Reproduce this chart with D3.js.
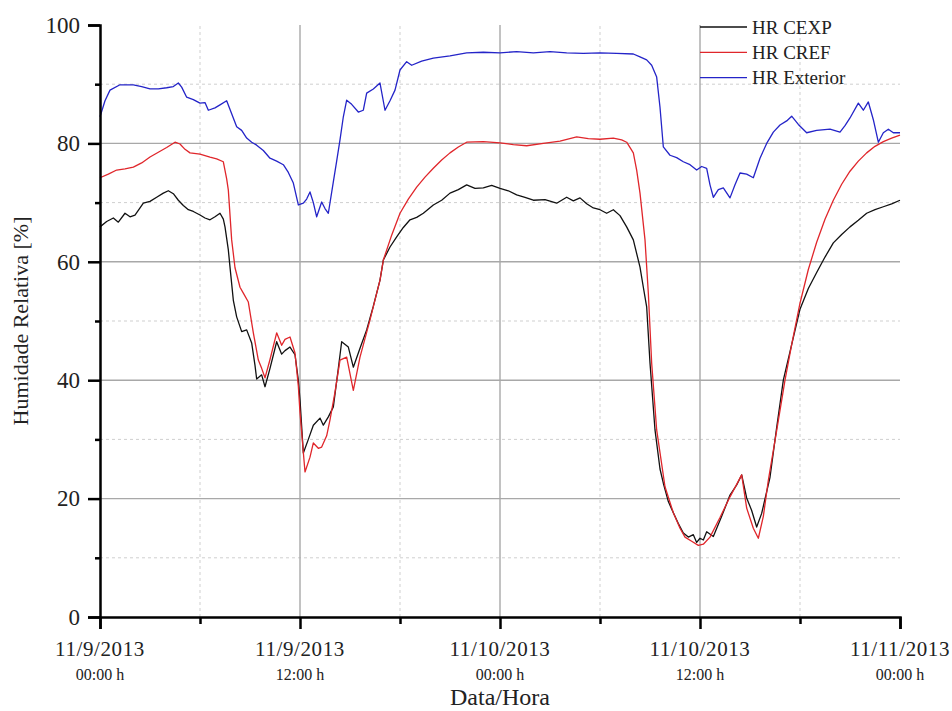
<!DOCTYPE html>
<html>
<head>
<meta charset="utf-8">
<script src="https://cdn.jsdelivr.net/npm/d3@7"></script>
<style>
  body { margin: 0; background: #fff; }
  text { font-family: "Liberation Serif", "DejaVu Serif", serif; fill: #222; }
</style>
</head>
<body>
<div id="chart"></div>
<script>
var width = 952;
var height = 711;
var margin = {top: 25, right: 52, bottom: 94, left: 100};

// hours since 11/9/2013 00:00
var xTicks = [0, 12, 24, 36, 48];
var xMinor = [6, 18, 30, 42];
var dateLabels = ["11/9/2013", "11/9/2013", "11/10/2013", "11/10/2013", "11/11/2013"];
var timeLabels = ["00:00 h", "12:00 h", "00:00 h", "12:00 h", "00:00 h"];
var yTicks = [0, 20, 40, 60, 80, 100];
var yMinor = [10, 30, 50, 70, 90];

var seriesNames = ["HR CEXP", "HR CREF", "HR Exterior"];
var seriesColors = ["#111111", "#e0262b", "#2424c8"];

// [hour, %]
var cexp = [[0,65.9],[0.4,66.8],[0.8,67.4],[1.1,66.7],[1.5,68.2],[1.8,67.6],[2.1,67.9],[2.6,69.9],[3,70.2],[3.4,70.9],[3.8,71.6],[4.1,72],[4.4,71.5],[4.7,70.4],[5,69.5],[5.3,68.8],[5.6,68.5],[6,67.9],[6.3,67.4],[6.6,67.1],[6.9,67.6],[7.2,68.2],[7.4,67.2],[7.5,65.9],[7.7,62],[7.8,59.1],[8,53.5],[8.2,50.7],[8.5,48.2],[8.8,48.5],[9.1,46.3],[9.3,42.5],[9.4,40.2],[9.7,40.9],[9.9,38.9],[10.2,42],[10.6,46.5],[10.9,44.4],[11.1,45],[11.4,45.6],[11.7,44.3],[11.9,40],[12,36.7],[12.2,27.7],[12.5,30],[12.8,32.4],[13.2,33.6],[13.4,32.4],[13.7,33.8],[14,35.5],[14.3,42],[14.5,46.5],[14.9,45.6],[15.2,42.2],[15.6,45.4],[16,48.5],[16.4,52.5],[16.8,56.9],[17,60.3],[17.4,62.5],[17.8,64.2],[18.2,65.8],[18.6,67.1],[19,67.5],[19.4,68.2],[20,69.6],[20.5,70.4],[21,71.6],[21.5,72.2],[22,73],[22.5,72.4],[23,72.5],[23.5,72.9],[24,72.4],[24.5,72],[25,71.3],[25.5,70.9],[26,70.4],[26.7,70.5],[27.4,69.9],[28,70.9],[28.4,70.3],[28.8,70.8],[29.2,69.8],[29.6,69.1],[30,68.8],[30.4,68.2],[30.8,68.8],[31.2,67.8],[31.6,65.9],[32,63.7],[32.4,59.1],[32.6,55.7],[32.8,52.4],[33,42.9],[33.3,31.6],[33.6,25],[33.8,22.6],[34.1,19.5],[34.4,17.6],[34.7,15.8],[35,14.2],[35.3,13.5],[35.6,13.9],[35.8,12.6],[36,13.3],[36.2,13],[36.4,14.4],[36.8,13.6],[37.3,17],[37.8,20.6],[38.2,22.3],[38.5,24],[38.8,20.1],[39.1,18],[39.4,15.2],[39.7,17.5],[40.2,23.6],[40.6,32],[41,40],[41.5,46],[42,52],[42.5,55.5],[43,58.2],[43.5,60.8],[44,63.2],[44.5,64.6],[45,65.9],[45.5,67],[46,68.2],[46.5,68.8],[47,69.3],[47.5,69.8],[48,70.4]];

var cref = [[0,74.2],[0.5,74.8],[1,75.5],[1.5,75.7],[2,76],[2.5,76.7],[3,77.7],[3.5,78.5],[4,79.3],[4.5,80.2],[4.8,79.9],[5.1,79],[5.4,78.4],[6,78.2],[6.6,77.7],[7,77.4],[7.4,76.9],[7.6,74],[7.7,72.1],[7.9,63.7],[8.1,59],[8.4,55.7],[8.6,54.7],[8.9,53.2],[9.2,48],[9.5,43.4],[9.7,42],[9.9,40.4],[10.2,43.5],[10.6,48],[10.9,45.9],[11.1,46.9],[11.4,47.3],[11.7,44.6],[11.9,39],[12,34.5],[12.3,24.5],[12.6,27],[12.8,29.4],[13.1,28.5],[13.3,28.7],[13.6,30.6],[13.8,33.3],[14.1,38],[14.4,43.4],[14.8,43.9],[15.2,38.3],[15.6,43.9],[16.2,50.2],[16.8,56.9],[17,60.3],[17.5,64.5],[18,68.2],[18.5,70.6],[19,72.6],[19.5,74.3],[20,75.8],[20.5,77.2],[21,78.4],[21.5,79.4],[22,80.2],[23,80.3],[24,80.1],[24.8,79.8],[25.6,79.6],[26.6,80],[27.6,80.4],[28.6,81.1],[29.3,80.8],[30,80.7],[30.8,80.9],[31.3,80.6],[31.6,80.2],[32,78.4],[32.2,75.5],[32.4,71.6],[32.7,63.7],[32.9,54.7],[33.1,42.9],[33.4,31.6],[33.9,22],[34.4,17.6],[34.8,15],[35.1,13.5],[35.5,12.8],[35.9,12.1],[36.2,12.3],[36.6,13.5],[37.2,16.8],[37.8,20.3],[38.2,22.4],[38.5,24],[38.8,18.4],[39.2,15],[39.5,13.3],[39.8,17],[40.1,23.1],[40.6,31.5],[41.1,40],[41.5,46],[42,53],[42.5,58.7],[43,63.3],[43.5,67.2],[44,70.4],[44.5,73.1],[45,75.3],[45.5,77],[46,78.4],[46.5,79.5],[47,80.3],[47.5,80.9],[48,81.4]];

var ext = [[0,84.5],[0.3,87.2],[0.6,89],[1.2,89.9],[2,89.9],[2.5,89.6],[3,89.2],[3.5,89.2],[4,89.4],[4.4,89.6],[4.7,90.2],[4.9,89.5],[5.2,87.8],[5.6,87.4],[6,86.8],[6.3,86.9],[6.5,85.6],[6.9,86],[7.2,86.5],[7.6,87.2],[7.9,85],[8.2,82.8],[8.5,82.2],[8.8,80.9],[9.1,80.2],[9.4,79.7],[9.8,78.8],[10.2,77.5],[10.6,77],[11,76.4],[11.3,75.1],[11.6,73.3],[11.9,69.6],[12.2,69.9],[12.4,70.6],[12.6,71.8],[12.8,70],[13,67.6],[13.3,70.1],[13.5,69],[13.7,68.2],[14,73.5],[14.2,77],[14.4,80.6],[14.6,84.5],[14.8,87.3],[15.1,86.6],[15.5,85.3],[15.8,85.6],[16,88.5],[16.4,89.2],[16.8,90.2],[17.1,85.6],[17.4,87.2],[17.7,89],[18,92.4],[18.4,93.8],[18.7,93.2],[19.3,93.9],[20,94.4],[21,94.8],[22,95.3],[23,95.4],[24,95.3],[25,95.5],[26,95.3],[27,95.5],[28,95.3],[29,95.2],[30,95.3],[31,95.2],[32,95.1],[32.4,94.6],[32.8,94.1],[33.1,93.2],[33.4,91.2],[33.6,86.1],[33.8,79.4],[34.2,78],[34.6,77.6],[35,76.9],[35.4,76.4],[35.8,75.5],[36.1,76.1],[36.4,75.8],[36.6,73],[36.8,70.9],[37.1,72.2],[37.4,72.5],[37.8,70.8],[38.1,73],[38.4,75],[38.8,74.8],[39.2,74.2],[39.6,77.5],[40,80],[40.4,81.9],[40.8,83.1],[41.2,83.8],[41.5,84.6],[41.9,83.2],[42.4,81.8],[43,82.2],[43.8,82.4],[44.4,81.9],[44.7,83],[45,84.3],[45.5,86.8],[45.8,85.6],[46.1,87],[46.4,84],[46.7,80.2],[47,81.8],[47.3,82.4],[47.6,81.8],[48,81.8]];

var allSeries = [cexp, cref, ext];

var svg = d3.select("#chart").append("svg")
    .attr("width", width)
    .attr("height", height);

var x = d3.scaleLinear().domain([0, 48]).range([margin.left, width - margin.right]);
var y = d3.scaleLinear().domain([0, 100]).range([height - margin.bottom, margin.top]);

//minor grid, dashed
svg.append("g").selectAll("line").data(yMinor).join("line")
    .attr("x1", x(0)).attr("x2", x(48))
    .attr("y1", d => y(d)).attr("y2", d => y(d))
    .attr("stroke", "#cfcfcf").attr("stroke-dasharray", "3,3");
svg.append("g").selectAll("line").data(xMinor).join("line")
    .attr("x1", d => x(d)).attr("x2", d => x(d))
    .attr("y1", y(0)).attr("y2", y(100))
    .attr("stroke", "#cfcfcf").attr("stroke-dasharray", "3,3");

//major grid, solid
svg.append("g").selectAll("line").data(yTicks.slice(1, -1)).join("line")
    .attr("x1", x(0)).attr("x2", x(48))
    .attr("y1", d => y(d)).attr("y2", d => y(d))
    .attr("stroke", "#a8a8a8").attr("stroke-width", 1.4);
svg.append("g").selectAll("line").data(xTicks.slice(1, -1)).join("line")
    .attr("x1", d => x(d)).attr("x2", d => x(d))
    .attr("y1", y(0)).attr("y2", y(100))
    .attr("stroke", "#a8a8a8").attr("stroke-width", 1.4);

// the lines
var line = d3.line().x(d => x(d[0])).y(d => y(d[1]));
svg.append("g").selectAll("path").data(allSeries).join("path")
    .attr("d", line)
    .attr("fill", "none")
    .attr("stroke", (d, i) => seriesColors[i])
    .attr("stroke-width", 1.3)
    .attr("stroke-linejoin", "round");

// y axis
var yAxis = svg.append("g").attr("transform", "translate(" + x(0) + ",0)")
    .call(d3.axisLeft(y).tickValues(yTicks).tickSize(12).tickPadding(8));
yAxis.select(".domain").attr("stroke-width", 2.5);
yAxis.selectAll(".tick line").attr("stroke-width", 2.5);
yAxis.selectAll("text").style("font-size", "23px").attr("fill", "#222");
svg.append("g").attr("transform", "translate(" + x(0) + ",0)")
    .call(d3.axisLeft(y).tickValues(yMinor).tickSize(5).tickFormat(""))
    .call(g => g.select(".domain").remove())
    .selectAll("line").attr("stroke-width", 2.5);

// x axis
var xAxis = svg.append("g").attr("transform", "translate(0," + y(0) + ")")
    .call(d3.axisBottom(x).tickValues(xTicks).tickSize(12).tickFormat(""));
xAxis.select(".domain").attr("stroke-width", 2.5);
xAxis.selectAll(".tick line").attr("stroke-width", 2.5);
svg.append("g").attr("transform", "translate(0," + y(0) + ")")
    .call(d3.axisBottom(x).tickValues(xMinor).tickSize(7).tickFormat(""))
    .call(g => g.select(".domain").remove())
    .selectAll("line").attr("stroke-width", 2.5);

svg.append("g").selectAll("text").data(xTicks).join("text")
    .attr("x", d => x(d)).attr("y", y(0) + 39)
    .attr("text-anchor", "middle")
    .style("font-size", "21px")
    .style("letter-spacing", "0.6px")
    .text((d, i) => dateLabels[i]);
svg.append("g").selectAll("text").data(xTicks).join("text")
    .attr("x", d => x(d)).attr("y", y(0) + 63)
    .attr("text-anchor", "middle")
    .style("font-size", "16px")
    .text((d, i) => timeLabels[i]);

// axis titles
svg.append("text")
    .attr("x", x(24)).attr("y", 705)
    .attr("text-anchor", "middle")
    .style("font-size", "24px")
    .text("Data/Hora");
svg.append("text")
    .attr("transform", "translate(28," + y(50) + ") rotate(-90)")
    .attr("text-anchor", "middle")
    .style("font-size", "22px")
    .text("Humidade Relativa [%]");

// legend
var legend = svg.append("g").selectAll("g").data(seriesNames).join("g")
    .attr("transform", (d, i) => "translate(700," + (27 + i * 25.3) + ")");
legend.append("line")
    .attr("x1", 0).attr("x2", 47)
    .attr("stroke", (d, i) => seriesColors[i])
    .attr("stroke-width", 1.3);
legend.append("text")
    .attr("x", 52).attr("dy", "0.35em")
    .style("font-size", "19px")
    .text(d => d);
</script>
</body>
</html>
